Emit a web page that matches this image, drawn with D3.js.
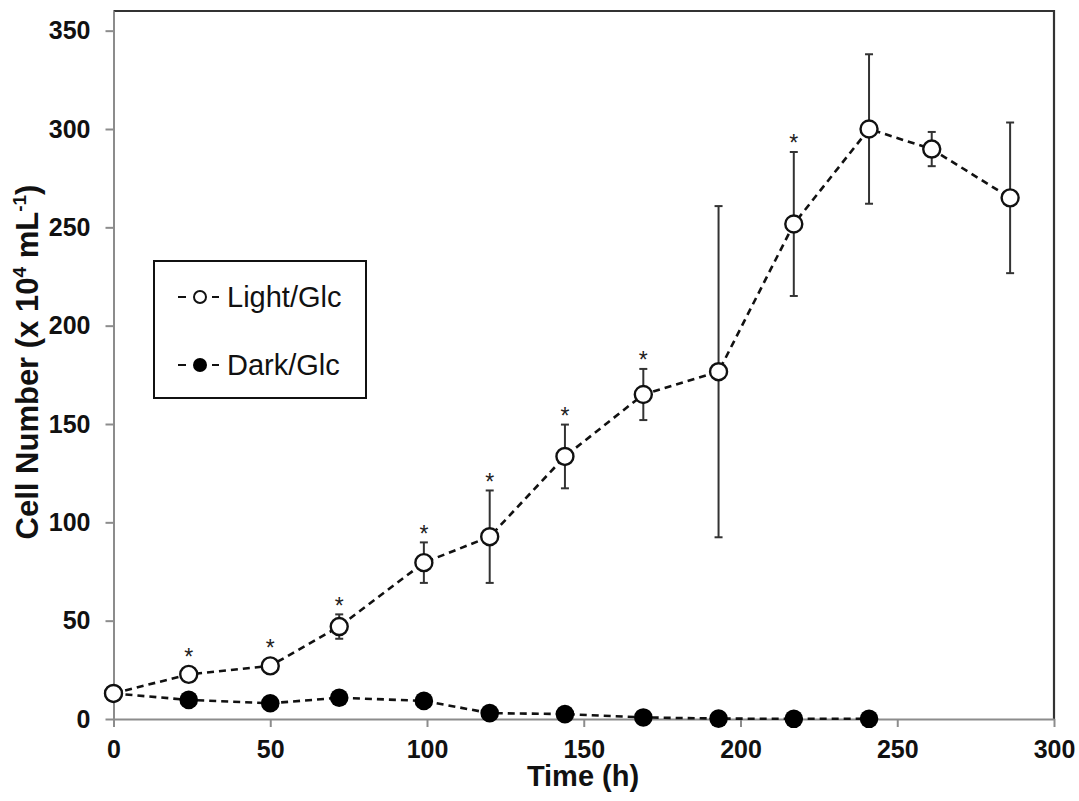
<!DOCTYPE html>
<html>
<head>
<meta charset="utf-8">
<script src="https://cdn.jsdelivr.net/npm/d3@7"></script>
<style>
  html, body { margin: 0; padding: 0; background: #fff; }
  svg { display: block; font-family: Arial, "Liberation Sans", sans-serif; }
</style>
</head>
<body>
<svg id="chart" width="1079" height="801"></svg>
<script>
// Time points (h)
const lightTime = [0, 24, 50, 72, 99, 120, 144, 169, 193, 217, 241, 261, 286];
const darkTime  = [0, 24, 50, 72, 99, 120, 144, 169, 193, 217, 241];

// Cell number (x 10^4 mL^-1), mean and standard deviation
const lightMean = [13, 22.7, 27, 47, 79.5, 92.7, 133.5, 165, 176.6, 251.7, 300, 289.8, 265];
const lightSD   = [0, 2, 2, 6.2, 10.3, 23.5, 16.2, 13, 84.2, 36.6, 38, 8.7, 38.3];
const darkMean  = [13, 9.7, 8.0, 10.8, 9.2, 3.0, 2.5, 0.8, 0.2, 0.1, 0.1];

// Significance markers (time points flagged with *)
const starTime = [24, 50, 72, 99, 120, 144, 169, 217];

const xTicks = [0, 50, 100, 150, 200, 250, 300];
const yTicks = [0, 50, 100, 150, 200, 250, 300, 350];

const seriesNames = ["Light/Glc", "Dark/Glc"];

const light = lightTime.map((t, i) => ({ t, m: lightMean[i], sd: lightSD[i] }));
const dark = darkTime.map((t, i) => ({ t, m: darkMean[i] }));

const svg = d3.select("#chart");
const x = d3.scaleLinear().domain([0, 300]).range([113.5, 1054]);
const y = d3.scaleLinear().domain([0, 360]).range([719, 11]);

const axisGray = "#8c8c8c";
const ink = "#111";

// Plot frame: top and right edges
svg.append("path")
  .attr("d", `M${x(0)},${y(360)}H${x(300)}V${y(0)}`)
  .attr("fill", "none").attr("stroke", "#333").attr("stroke-width", 2.2);

// Y axis
const yAxis = svg.append("g").attr("transform", `translate(${x(0)},0)`)
  .call(d3.axisLeft(y).tickValues(yTicks).tickSize(8).tickPadding(15).tickSizeOuter(0));
yAxis.select(".domain").attr("stroke", axisGray).attr("stroke-width", 2);
yAxis.selectAll(".tick line").attr("stroke", axisGray).attr("stroke-width", 2);
yAxis.selectAll(".tick text").attr("fill", ink).attr("font-size", 25).attr("font-weight", "bold")
  .attr("font-family", "Arial, 'Liberation Sans', sans-serif");

// X axis
const xAxis = svg.append("g").attr("transform", `translate(0,${y(0)})`)
  .call(d3.axisBottom(x).tickValues(xTicks).tickSize(8).tickPadding(13).tickSizeOuter(0));
xAxis.select(".domain").attr("stroke", axisGray).attr("stroke-width", 2);
xAxis.selectAll(".tick line").attr("stroke", axisGray).attr("stroke-width", 2);
xAxis.selectAll(".tick text").attr("fill", ink).attr("font-size", 25).attr("font-weight", "bold")
  .attr("font-family", "Arial, 'Liberation Sans', sans-serif");

// Axis titles
svg.append("text")
  .attr("x", 583).attr("y", 786)
  .attr("text-anchor", "middle").attr("font-size", 29).attr("font-weight", "bold").attr("fill", ink)
  .text("Time (h)");

const yTitle = svg.append("text")
  .attr("transform", `translate(38,${(y(0) + y(360)) / 2 - 3}) rotate(-90)`)
  .attr("text-anchor", "middle").attr("font-size", 31).attr("font-weight", "bold").attr("fill", ink);
yTitle.append("tspan").text("Cell Number (x 10");
yTitle.append("tspan").attr("font-size", 19).attr("dy", -12).text("4");
yTitle.append("tspan").attr("dy", 12).text(" mL");
yTitle.append("tspan").attr("font-size", 19).attr("dy", -12).text("-1");
yTitle.append("tspan").attr("dy", 12).text(")");

// Error bars (light series)
const capW = 8;
const eb = svg.append("g").attr("stroke", "#333").attr("stroke-width", 2);
light.filter(d => d.sd > 0).forEach(d => {
  const cx = x(d.t), y1 = y(d.m + d.sd), y2 = y(d.m - d.sd);
  eb.append("line").attr("x1", cx).attr("x2", cx).attr("y1", y1).attr("y2", y2);
  eb.append("line").attr("x1", cx - capW / 2).attr("x2", cx + capW / 2).attr("y1", y1).attr("y2", y1);
  eb.append("line").attr("x1", cx - capW / 2).attr("x2", cx + capW / 2).attr("y1", y2).attr("y2", y2);
});

// Dashed connecting lines
const line = d3.line().x(d => x(d.t)).y(d => y(d.m));
[dark, light].forEach(series => {
  svg.append("path").datum(series)
    .attr("d", line).attr("fill", "none")
    .attr("stroke", ink).attr("stroke-width", 2.6).attr("stroke-dasharray", "7,5");
});

// Markers
svg.append("g").selectAll("circle").data(dark).join("circle")
  .attr("cx", d => x(d.t)).attr("cy", d => y(d.m)).attr("r", 9.3)
  .attr("fill", "#000");
svg.append("g").selectAll("circle").data(light).join("circle")
  .attr("cx", d => x(d.t)).attr("cy", d => y(d.m)).attr("r", 8.5)
  .attr("fill", "#fff").attr("stroke", ink).attr("stroke-width", 2.4);

// Significance asterisks
const starFs = 23;
svg.append("g").selectAll("text").data(light.filter(d => starTime.includes(d.t))).join("text")
  .attr("x", d => x(d.t))
  .attr("y", d => Math.min(y(d.m + d.sd), y(d.m) - 9) - 14 + 0.58 * starFs)
  .attr("text-anchor", "middle").attr("font-size", starFs).attr("fill", "#222")
  .text("*");

// Legend
const lg = svg.append("g");
lg.append("rect").attr("x", 154).attr("y", 261).attr("width", 212).attr("height", 137)
  .attr("fill", "#fff").attr("stroke", ink).attr("stroke-width", 2);
const legendRows = [297, 365];
seriesNames.forEach((name, i) => {
  const cy = legendRows[i];
  lg.append("line").attr("x1", 178).attr("x2", 186).attr("y1", cy).attr("y2", cy)
    .attr("stroke", ink).attr("stroke-width", 2);
  lg.append("line").attr("x1", 212).attr("x2", 219).attr("y1", cy).attr("y2", cy)
    .attr("stroke", ink).attr("stroke-width", 2);
  lg.append("circle").attr("cx", 200).attr("cy", cy).attr("r", i === 0 ? 6 : 7)
    .attr("fill", i === 0 ? "#fff" : "#000").attr("stroke", ink).attr("stroke-width", i === 0 ? 2 : 0);
  lg.append("text").attr("x", 227).attr("y", cy + 10).attr("font-size", 29).attr("fill", ink)
    .text(name);
});
</script>
</body>
</html>
